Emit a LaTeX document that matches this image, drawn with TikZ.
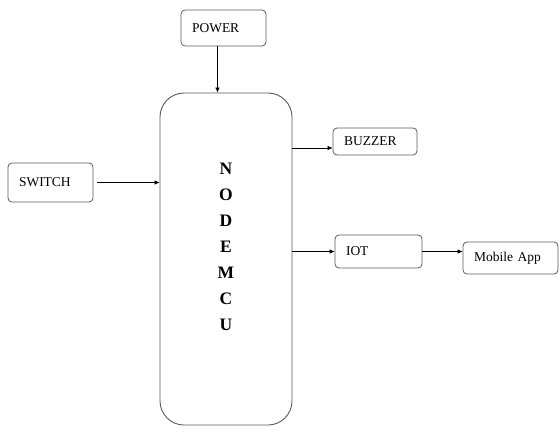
\documentclass[tikz,border=0pt]{standalone}
\usepackage{fontspec}
\setmainfont{Liberation Serif}
\usetikzlibrary{positioning, arrows.meta}
\definecolor{boxgray}{RGB}{90, 90, 90}
\tikzset{
    blockbox/.style={rectangle, rounded corners=4pt, draw=boxgray, line width=0.8pt,
        inner xsep=11pt, align=left, font=\fontsize{13.5}{15}\selectfont},
    mcubox/.style={rectangle, rounded corners=24pt, draw=boxgray, line width=0.9pt,
        minimum width=132pt, minimum height=332pt},
    mculetters/.style={align=center, font=\fontsize{17.5}{26}\selectfont\bfseries, inner sep=0pt},
    sigarrow/.style={-{Latex[length=5pt, width=4.5pt]}, line width=0.6pt}
}
\begin{document}
\begin{tikzpicture}[x=1pt, y=-1pt]
    \useasboundingbox (0,0) rectangle (559,428);

    % main controller
    \node[mcubox] (mcu) at (226,259) {};
    \node[mculetters, anchor=north] (mcutext) at (226,163) {N\\O\\D\\E\\M\\C\\U};

    % blocks around it
    \node[blockbox, text width=63pt, minimum height=36pt] (power) at (223.5,28) {POWER};
    \node[blockbox, text width=63pt, minimum height=39pt] (switch) at (50.5,182.5) {SWITCH};
    \node[blockbox, text width=62pt, minimum height=27pt] (buzzer) at (375,141.5) {BUZZER};
    \node[blockbox, text width=65pt, minimum height=33pt] (iot) at (378.5,251.5) {IOT};
    \node[blockbox, text width=73pt, minimum height=32pt] (mobile) at (510.5,258) {Mobile App};

    % connections
    \draw[sigarrow] ([xshift=-6pt]power.south) -- ([xshift=-6pt]power.south |- mcu.north);
    \draw[sigarrow] ([xshift=4pt]switch.east) -- (switch.east -| mcu.west);
    \coordinate (bz) at ([yshift=-6.5pt]buzzer.west);
    \draw[sigarrow] (bz -| mcu.east) -- (bz);
    \draw[sigarrow] (iot.west -| mcu.east) -- (iot.west);
    \draw[sigarrow] (iot.east) -- (iot.east -| mobile.west);
\end{tikzpicture}
\end{document}
